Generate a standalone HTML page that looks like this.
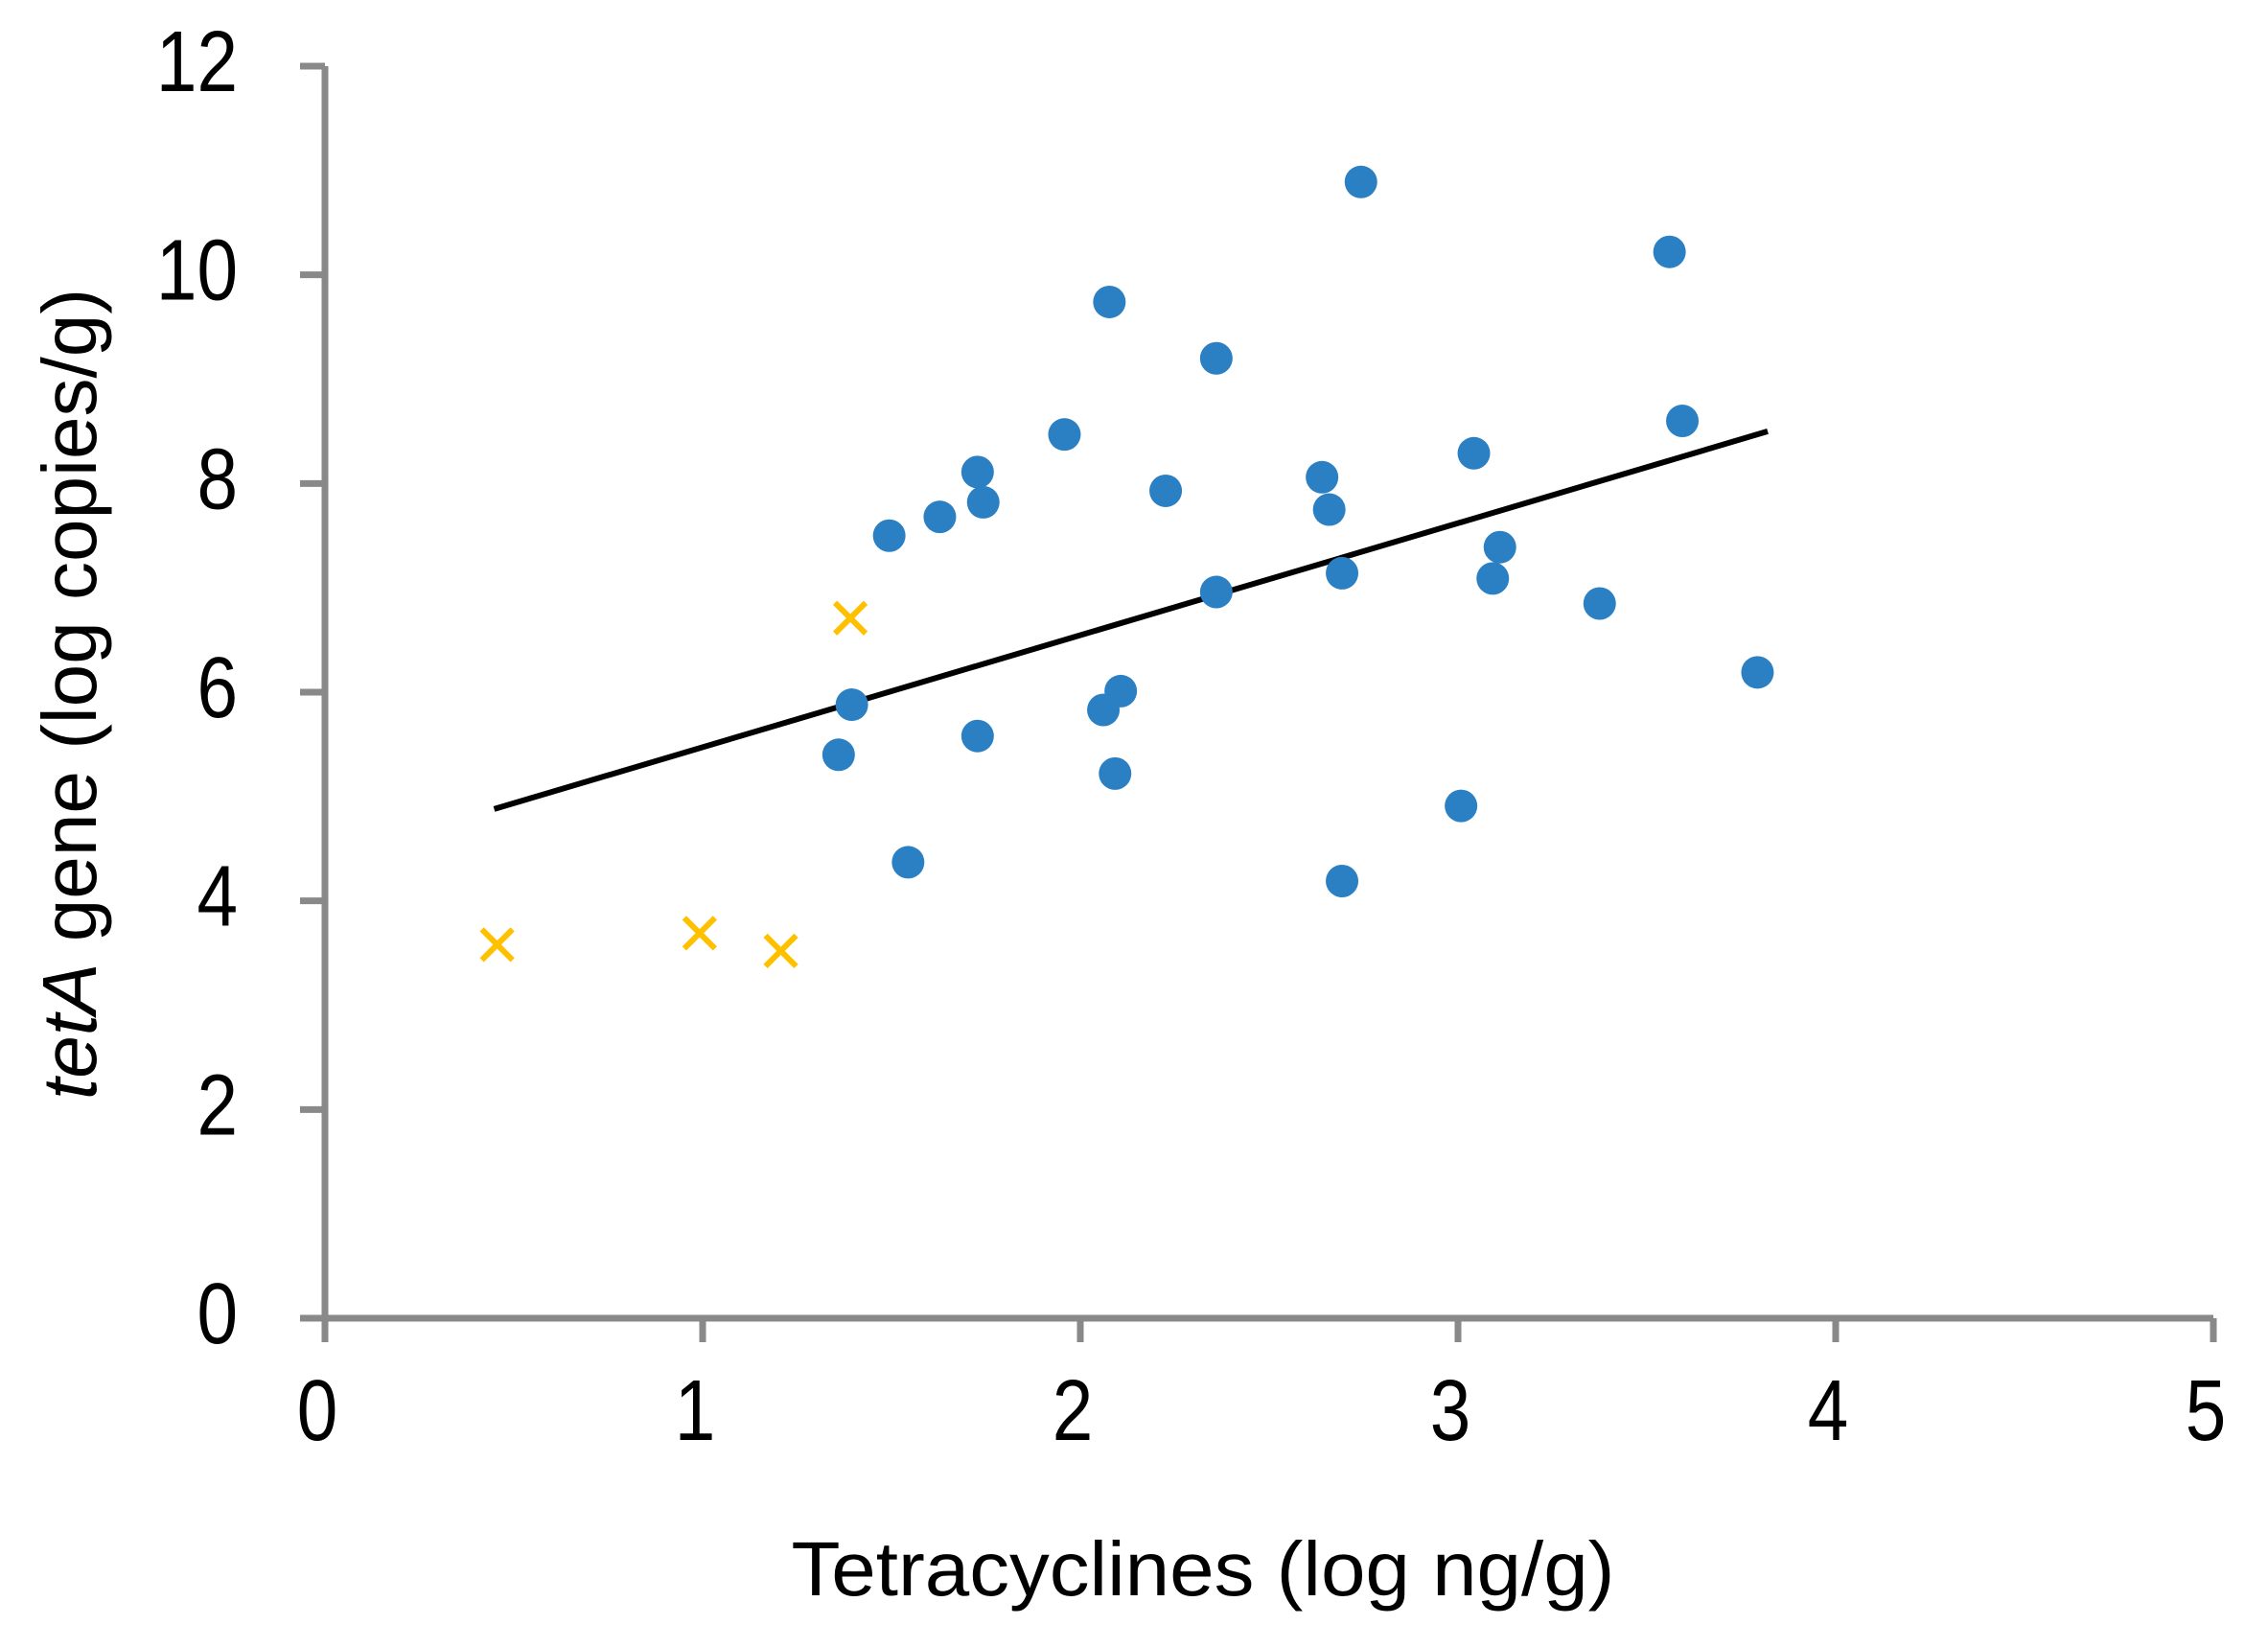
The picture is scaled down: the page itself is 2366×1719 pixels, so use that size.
<!DOCTYPE html>
<html><head><meta charset="utf-8"><style>
html,body{margin:0;padding:0;background:#fff}
svg text{font-family:"Liberation Sans","Noto Sans CJK JP",sans-serif;fill:#000}
</style></head><body>
<svg id="chart" width="2366" height="1714" viewBox="0 0 2366 1714" xmlns="http://www.w3.org/2000/svg">
<g id="axes"></g>
<g id="marks"></g>
<text x="1255" y="1664" font-size="80" text-anchor="middle" textLength="859" lengthAdjust="spacingAndGlyphs">Tetracyclines (log ng/g)</text>
<text transform="translate(100,724) rotate(-90)" font-size="80" text-anchor="middle" textLength="846" lengthAdjust="spacingAndGlyphs"><tspan font-style="italic">tetA</tspan> gene (log copies/g)</text>
</svg>
<script>
const xTicks=[0,1,2,3,4,5];
const yTicks=[0,2,4,6,8,10,12];
const detX=[2.743,3.56,2.077,2.36,3.594,1.958,3.042,1.728,2.64,2.226,1.743,2.659,1.628,1.494,3.111,2.693,3.092,2.36,3.375,3.793,2.107,1.395,2.061,1.728,1.36,2.092,3.008,1.544,2.693];
const detY=[10.89,10.22,9.74,9.20,8.60,8.47,8.29,8.11,8.06,7.93,7.82,7.75,7.68,7.50,7.39,7.14,7.09,6.96,6.85,6.19,6.01,5.88,5.83,5.58,5.40,5.22,4.91,4.37,4.19];
const crossX=[0.456,0.992,1.207,1.391];
const crossY=[3.58,3.69,3.52,6.71];
const trendX=[0.448,3.82];
const trendY=[4.88,8.50];
const NS='http://www.w3.org/2000/svg';
const X0=339,X1=2309,Y0=1375,Y1=69;
const sx=v=>X0+(X1-X0)*v/5;
const sy=v=>Y0-(Y0-Y1)*v/12;
function mk(t,a,p){const e=document.createElementNS(NS,t);for(const k in a)e.setAttribute(k,a[k]);p.appendChild(e);return e;}
const axes=document.getElementById('axes'),marks=document.getElementById('marks');
const g='#898989';
let e=mk('line',{x1:X0,y1:Y0,x2:X1,y2:Y0,stroke:g,'stroke-width':7},axes);

e=mk('line',{x1:X0,y1:Y0+3,x2:X0,y2:Y1,stroke:g,'stroke-width':7},axes);

xTicks.forEach(v=>{
 let t=mk('line',{x1:sx(v),y1:Y0,x2:sx(v),y2:Y0+25,stroke:g,'stroke-width':7},axes);
 
 let l=mk('text',{transform:`translate(${sx(v)-8},1502) scale(0.85,1)`,'font-size':90,'text-anchor':'middle'},axes);l.textContent=v;
 
});
yTicks.forEach(v=>{
 let t=mk('line',{x1:X0-26,y1:sy(v),x2:X0,y2:sy(v),stroke:g,'stroke-width':7},axes);
 
 let l=mk('text',{transform:`translate(248,${sy(v)+26}) scale(0.85,1)`,'font-size':90,'text-anchor':'end'},axes);l.textContent=v;
 
});
let tl=mk('line',{x1:sx(trendX[0]),y1:sy(trendY[0]),x2:sx(trendX[1]),y2:sy(trendY[1]),stroke:'#000','stroke-width':6},marks);

detX.forEach((v,i)=>{
 let c=mk('circle',{cx:sx(v),cy:sy(detY[i]),r:17,fill:'#2b7fc3'},marks);
 
});
crossX.forEach((v,i)=>{
 const cx=sx(v),cy=sy(crossY[i]),s=16;
 let p=mk('path',{d:`M${cx-s},${cy-s}L${cx+s},${cy+s}M${cx-s},${cy+s}L${cx+s},${cy-s}`,stroke:'#ffc000','stroke-width':6,fill:'none'},marks);
 
});
</script>
</body></html>
